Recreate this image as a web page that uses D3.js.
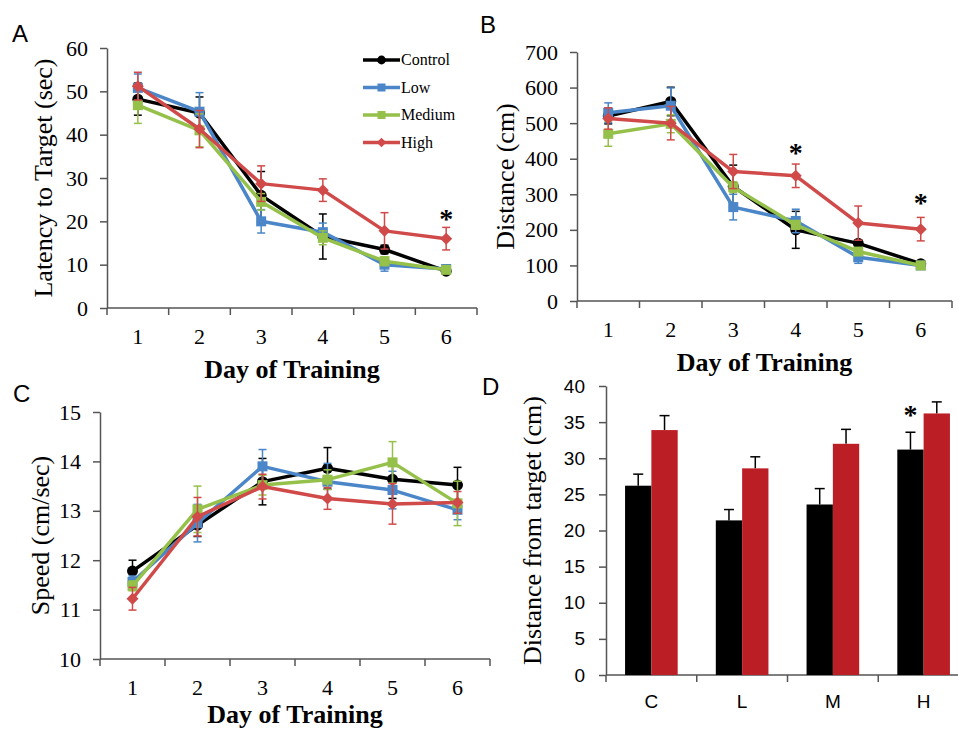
<!DOCTYPE html>
<meta charset="utf-8">
<script src="https://d3js.org/d3.v7.min.js"></script>
<style>
  body { margin: 0; background: #fff; }
  text { fill: #000; }
  .serif { font-family: "Liberation Serif", "Times New Roman", Times, serif; }
  .sans { font-family: "Liberation Sans", Arial, sans-serif; }
</style>
<div id="my_dataviz"></div>
<script>

// ---- data ----
var days = ["1", "2", "3", "4", "5", "6"];
var groups = ["Control", "Low", "Medium", "High"];
var colors = ["#000000", "#4a86c8", "#95c04a", "#d04a4a"];
var shapes = ["circle", "square", "square", "diamond"];

// panel A: latency to target (sec)
var latency = [
  [48.2, 45.0, 26.0, 16.5, 13.5, 8.5],
  [50.8, 45.3, 20.0, 17.5, 10.0, 9.0],
  [46.8, 41.0, 24.5, 16.2, 10.8, 8.8],
  [51.2, 41.3, 28.7, 27.2, 17.8, 16.0]
];
var latencyErr = [
  [3.7, 3.7, 5.5, 5.2, 1.0, 0.6],
  [3.2, 4.4, 2.7, 2.1, 1.5, 0.6],
  [4.2, 3.8, 1.9, 1.6, 1.0, 0.6],
  [3.2, 4.3, 4.1, 2.6, 4.2, 2.6]
];
var latencyTicks = [0, 10, 20, 30, 40, 50, 60];
var latencyStars = [{day: "6", v: 21.5}];

// panel B: distance (cm)
var distance = [
  [520, 561, 322, 200, 162, 105],
  [529, 549, 264, 225, 123, 100],
  [470, 498, 320, 214, 139, 100],
  [513, 500, 364, 352, 219, 202]
];
var distanceErr = [
  [22, 40, 60, 52, 10, 8],
  [28, 50, 36, 33, 17, 8],
  [35, 25, 15, 12, 10, 8],
  [30, 47, 48, 33, 48, 33]
];
var distanceTicks = [0, 100, 200, 300, 400, 500, 600, 700];
var distanceStars = [{day: "4", v: 427}, {day: "6", v: 287}];

// panel C: speed (cm/sec)
var speed = [
  [11.78, 12.71, 13.59, 13.86, 13.64, 13.52],
  [11.56, 12.75, 13.90, 13.59, 13.42, 13.02],
  [11.48, 13.03, 13.52, 13.63, 13.98, 13.15],
  [11.22, 12.88, 13.49, 13.25, 13.14, 13.17]
];
var speedErr = [
  [0.22, 0.23, 0.47, 0.42, 0.39, 0.36],
  [0.12, 0.38, 0.34, 0.37, 0.38, 0.20],
  [0.10, 0.47, 0.20, 0.20, 0.42, 0.45],
  [0.23, 0.39, 0.25, 0.22, 0.41, 0.22]
];
var speedTicks = [10, 11, 12, 13, 14, 15];

// panel D: distance from target (cm)
var probeCats = ["C", "L", "M", "H"];
var probeBlack = [26.2, 21.4, 23.6, 31.2];
var probeBlackErr = [1.6, 1.5, 2.2, 2.4];
var probeRed = [33.9, 28.6, 32.0, 36.2];
var probeRedErr = [2.0, 1.6, 2.0, 1.6];
var probeTicks = [0, 5, 10, 15, 20, 25, 30, 35, 40];
var probeStars = [{cat: "H", v: 36.6}];

// ---- svg ----
var svg = d3.select("#my_dataviz")
  .append("svg")
    .attr("width", 958)
    .attr("height", 731);

svg.append("rect").attr("width", 958).attr("height", 731).attr("fill", "#fff");

var axisColor = "#555";

// left axis + tick labels
function drawYAxis(g, y, x0, ticks, cls, size, pad) {
  var ax = g.append("g")
    .attr("transform", "translate(" + x0 + ",0)")
    .call(d3.axisLeft(y).tickValues(ticks).tickFormat(d3.format("d"))
      .tickSize(7).tickSizeOuter(0).tickPadding(pad));
  ax.attr("font-family", null).attr("font-size", size);
  ax.select(".domain").attr("stroke", axisColor).attr("stroke-width", 1.5);
  ax.selectAll(".tick line").attr("stroke", axisColor).attr("stroke-width", 1.5);
  ax.selectAll("text")
    .attr("class", cls)
    .attr("fill", "#000")
    .style("font-size", size + "px");
}

// bottom axis with tick marks at band boundaries
function drawXAxis(g, x, y0, cls, size) {
  var r = x.range();
  g.append("line")
    .attr("x1", r[0]).attr("x2", r[1])
    .attr("y1", y0).attr("y2", y0)
    .attr("stroke", axisColor).attr("stroke-width", 1.5);
  var edges = x.domain().map(function(d, i) { return r[0] + i * x.step(); });
  edges.push(r[0] + x.domain().length * x.step());
  g.selectAll(null)
    .data(edges.filter(function(e) { return e <= 958; }))
    .enter().append("line")
      .attr("x1", function(d) { return d; })
      .attr("x2", function(d) { return d; })
      .attr("y1", y0).attr("y2", y0 + 7)
      .attr("stroke", axisColor).attr("stroke-width", 1.5);
  var ax = g.append("g")
    .attr("transform", "translate(0," + y0 + ")")
    .call(d3.axisBottom(x).tickSize(0).tickPadding(20));
  ax.attr("font-family", null).attr("font-size", size);
  ax.select(".domain").remove();
  ax.selectAll("text")
    .attr("class", cls)
    .attr("fill", "#000")
    .style("font-size", size + "px");
}

function marker(sel, shape, color, s) {
  if (shape === "circle") {
    sel.append("circle").attr("r", s * 0.55).attr("fill", color);
  } else if (shape === "square") {
    sel.append("rect").attr("x", -s / 2).attr("y", -s / 2)
      .attr("width", s).attr("height", s).attr("fill", color);
  } else {
    var h = s * 0.6;
    sel.append("path").attr("d", "M0," + (-h) + "L" + h + ",0L0," + h + "L" + (-h) + ",0Z")
      .attr("fill", color);
  }
}

function lineChart(o) {
  var g = svg.append("g");
  var x = d3.scaleBand().domain(days).range([o.x0, o.x1]).padding(0);
  var y = d3.scaleLinear().domain(o.domain).range([o.y0, o.y1]);

  drawYAxis(g, y, o.x0, o.ticks, "serif", 22, 12);
  drawXAxis(g, x, o.y0, "serif", 22);

  var cx = function(d) { return x(d) + x.bandwidth() / 2; };

  o.values.forEach(function(vals, si) {
    var col = colors[si];
    var errs = o.errors[si];
    var pts = days.map(function(d, i) { return {day: d, v: vals[i], e: errs[i]}; });

    var eb = g.append("g").attr("stroke", col).attr("stroke-width", 1.5);
    pts.forEach(function(p) {
      var xx = cx(p.day);
      eb.append("line").attr("x1", xx).attr("x2", xx)
        .attr("y1", y(p.v - p.e)).attr("y2", y(p.v + p.e));
      [p.v - p.e, p.v + p.e].forEach(function(v) {
        eb.append("line").attr("x1", xx - 4).attr("x2", xx + 4)
          .attr("y1", y(v)).attr("y2", y(v));
      });
    });

    g.append("path")
      .datum(pts)
      .attr("fill", "none")
      .attr("stroke", col)
      .attr("stroke-width", 3.5)
      .attr("stroke-linejoin", "round")
      .attr("d", d3.line()
        .x(function(p) { return cx(p.day); })
        .y(function(p) { return y(p.v); }));

    pts.forEach(function(p) {
      var m = g.append("g").attr("transform", "translate(" + cx(p.day) + "," + y(p.v) + ")");
      marker(m, shapes[si], col, 10);
    });
  });

  (o.stars || []).forEach(function(s) {
    g.append("text")
      .attr("class", "serif")
      .attr("x", cx(s.day))
      .attr("y", y(s.v) + 13)
      .attr("text-anchor", "middle")
      .style("font-weight", "bold")
      .style("font-size", "28px")
      .text("*");
  });

  // axis titles
  g.append("text")
    .attr("class", "serif")
    .attr("transform", "translate(" + o.ytX + "," + ((o.y0 + o.y1) / 2) + ")rotate(-90)")
    .attr("text-anchor", "middle")
    .style("font-size", "26px")
    .text(o.ytitle);

  g.append("text")
    .attr("class", "serif")
    .attr("x", (o.x0 + o.x1) / 2)
    .attr("y", o.y0 + (o.titleGap || 70))
    .attr("text-anchor", "middle")
    .style("font-weight", "bold")
    .style("font-size", "26px")
    .text("Day of Training");

  return g;
}

// panel A
var gA = lineChart({
  x0: 107, x1: 477, y0: 308, y1: 48, domain: [0, 60],
  ticks: latencyTicks, values: latency, errors: latencyErr,
  stars: latencyStars, ytitle: "Latency to Target (sec)", ytX: 52
});

// legend
groups.forEach(function(name, i) {
  var ly = 60 + i * 27.5;
  gA.append("line")
    .attr("x1", 363).attr("x2", 400)
    .attr("y1", ly).attr("y2", ly)
    .attr("stroke", colors[i]).attr("stroke-width", 3.5);
  var m = gA.append("g").attr("transform", "translate(381.5," + ly + ")");
  marker(m, shapes[i], colors[i], 8);
  gA.append("text")
    .attr("class", "serif")
    .attr("x", 401).attr("y", ly + 5)
    .style("font-size", "16px")
    .text(name);
});

// panel B
lineChart({
  x0: 577, x1: 952, y0: 301, y1: 52, domain: [0, 700],
  ticks: distanceTicks, values: distance, errors: distanceErr,
  stars: distanceStars, ytitle: "Distance (cm)", ytX: 514
});

// panel C (title kept just inside the bottom edge)
lineChart({
  x0: 100, x1: 490, y0: 659, y1: 412, domain: [10, 15],
  ticks: speedTicks, values: speed, errors: speedErr,
  stars: [], ytitle: "Speed (cm/sec)", ytX: 49, titleGap: 64
});

// panel D: grouped bars
var gD = svg.append("g");
var xD = d3.scaleBand().domain(probeCats).range([606, 969]).paddingInner(0.42).paddingOuter(0.21);
var yD = d3.scaleLinear().domain([0, 40]).range([675, 386]);
var half = xD.bandwidth() / 2;

drawYAxis(gD, yD, 606, probeTicks, "sans", 19, 14);
drawXAxis(gD, d3.scaleBand().domain(probeCats).range([606, 969]), 675, "sans", 19);

var barSets = [
  {vals: probeBlack, errs: probeBlackErr, color: "#000000", off: 0},
  {vals: probeRed, errs: probeRedErr, color: "#bc1e26", off: half}
];
barSets.forEach(function(b) {
  gD.selectAll(null)
    .data(probeCats)
    .enter().append("line")
      .attr("x1", function(d) { return xD(d) + b.off + half / 2; })
      .attr("x2", function(d) { return xD(d) + b.off + half / 2; })
      .attr("y1", function(d, i) { return yD(b.vals[i]); })
      .attr("y2", function(d, i) { return yD(b.vals[i] + b.errs[i]); })
      .attr("stroke", "#000").attr("stroke-width", 1.5);
  gD.selectAll(null)
    .data(probeCats)
    .enter().append("line")
      .attr("x1", function(d) { return xD(d) + b.off + half / 2 - 5; })
      .attr("x2", function(d) { return xD(d) + b.off + half / 2 + 5; })
      .attr("y1", function(d, i) { return yD(b.vals[i] + b.errs[i]); })
      .attr("y2", function(d, i) { return yD(b.vals[i] + b.errs[i]); })
      .attr("stroke", "#000").attr("stroke-width", 1.5);
  gD.selectAll(null)
    .data(probeCats)
    .enter().append("rect")
      .attr("x", function(d) { return xD(d) + b.off; })
      .attr("y", function(d, i) { return yD(b.vals[i]); })
      .attr("width", half)
      .attr("height", function(d, i) { return yD(0) - yD(b.vals[i]); })
      .attr("fill", b.color);
});

probeStars.forEach(function(s) {
  gD.append("text")
    .attr("class", "serif")
    .attr("x", xD(s.cat) + half / 2)
    .attr("y", yD(s.v) + 13)
    .attr("text-anchor", "middle")
    .style("font-weight", "bold")
    .style("font-size", "28px")
    .text("*");
});

gD.append("text")
  .attr("class", "serif")
  .attr("transform", "translate(541,530.5)rotate(-90)")
  .attr("text-anchor", "middle")
  .style("font-size", "26px")
  .text("Distance from target (cm)");

// panel letters
[["A", 12, 42], ["B", 480, 33], ["C", 13, 402], ["D", 482, 395]].forEach(function(l) {
  svg.append("text")
    .attr("class", "sans")
    .attr("x", l[1]).attr("y", l[2])
    .style("font-size", "24px")
    .text(l[0]);
});

</script>
